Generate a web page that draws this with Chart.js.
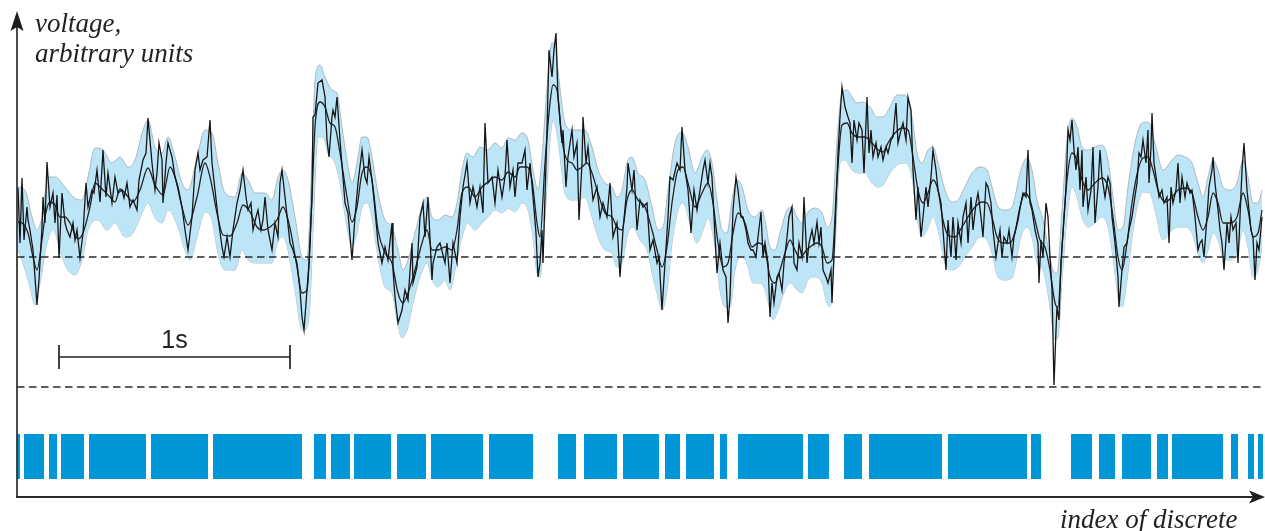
<!DOCTYPE html>
<html><head><meta charset="utf-8">
<script src="https://cdn.jsdelivr.net/npm/chart.js@4.4.1/dist/chart.umd.min.js"></script>
<style>html,body{margin:0;padding:0;background:#fff;overflow:hidden}#wrap{width:1265px;height:531px;position:relative}</style>
</head><body><div id="wrap"><canvas id="c"></canvas></div>
<script>
// x: index of discrete sample, y: voltage (arbitrary units)
const rawSamples = [[0,69],[2,14],[4,79],[6,17],[9,50],[10,37],[12,27],[15,7],[19,-48],[21,-23],[24,30],[25,60],[27,34],[29,95],[32,50],[35,64],[37,34],[39,62],[41,-1],[44,64],[47,34],[49,27],[52,20],[55,34],[57,17],[59,27],[62,-1],[65,24],[68,74],[70,50],[74,67],[76,64],[79,87],[82,55],[85,107],[88,60],[90,84],[94,54],[97,80],[100,64],[104,67],[106,59],[109,74],[112,50],[115,57],[119,47],[121,77],[125,97],[128,104],[130,139],[134,94],[137,67],[139,84],[141,114],[144,97],[145,54],[148,94],[150,114],[154,100],[157,80],[160,70],[164,50],[167,27],[170,7],[174,40],[177,87],[180,104],[182,87],[185,97],[189,100],[192,137],[194,94],[197,67],[200,40],[204,10],[206,0],[209,20],[212,0],[215,27],[219,54],[222,67],[225,87],[228,60],[230,47],[233,54],[235,27],[238,40],[240,47],[243,27],[245,37],[247,60],[250,27],[254,7],[257,34],[260,20],[262,74],[264,87],[267,60],[272,14],[275,7],[279,-6],[282,-33],[284,-60],[286,-73],[289,-33],[291,-6],[294,60],[295,140],[297,142],[300,174],[304,177],[307,160],[309,117],[311,100],[314,140],[315,147],[317,140],[319,160],[322,117],[327,54],[330,44],[334,-3],[337,40],[340,74],[344,107],[347,80],[349,74],[351,100],[354,77],[357,47],[360,14],[364,-6],[367,10],[370,-3],[374,34],[375,-13],[377,-40],[380,-66],[384,-53],[387,-33],[390,-43],[394,14],[395,-26],[399,-10],[402,40],[405,54],[407,20],[410,60],[414,-23],[415,-6],[419,10],[422,14],[427,-6],[429,14],[432,-26],[435,14],[439,-6],[442,40],[445,70],[449,94],[452,54],[455,70],[459,50],[462,70],[465,44],[467,134],[470,74],[474,80],[477,54],[480,87],[484,60],[487,80],[489,117],[492,70],[495,87],[497,60],[500,94],[504,94],[507,107],[509,67],[512,94],[515,60],[518,24],[520,-20],[522,-6],[524,27],[525,-6],[529,127],[531,207],[534,180],[536,207],[538,224],[540,160],[544,114],[545,127],[548,70],[550,100],[554,127],[556,100],[559,114],[561,37],[564,94],[565,140],[568,94],[570,110],[573,77],[575,57],[579,70],[582,40],[585,54],[589,40],[592,74],[595,20],[599,34],[602,-20],[605,27],[609,70],[610,94],[614,67],[616,87],[619,27],[622,57],[625,50],[629,54],[632,7],[635,17],[639,-6],[641,0],[644,-53],[647,-6],[650,40],[652,80],[655,77],[659,94],[662,87],[664,130],[667,87],[670,67],[673,24],[676,67],[679,47],[682,67],[685,87],[687,97],[690,74],[692,94],[694,80],[697,20],[699,-16],[702,14],[705,-13],[708,-20],[710,-66],[712,-40],[715,47],[718,80],[720,67],[723,40],[725,40],[728,27],[730,14],[733,7],[735,7],[738,0],[740,20],[743,45],[745,0],[747,14],[750,-6],[752,-60],[754,-26],[756,-46],[759,-20],[761,-16],[764,-33],[766,-6],[769,20],[771,40],[774,50],[776,-6],[779,-13],[781,14],[784,0],[786,60],[789,-6],[791,14],[794,27],[796,14],[799,35],[801,14],[803,30],[805,-13],[808,-20],[810,-26],[813,-13],[814,-46],[817,27],[820,104],[822,140],[824,170],[827,150],[830,140],[832,134],[834,94],[836,137],[839,117],[841,134],[844,127],[846,84],[849,160],[851,104],[853,127],[855,100],[858,114],[860,100],[863,110],[865,97],[868,110],[870,104],[873,117],[875,120],[878,154],[880,114],[883,127],[885,134],[888,117],[890,160],[893,147],[895,87],[898,37],[900,70],[903,20],[905,40],[908,70],[910,50],[913,80],[915,107],[918,87],[920,67],[923,54],[925,27],[928,-13],[930,37],[933,0],[935,40],[938,-3],[940,34],[943,14],[945,40],[948,54],[950,14],[953,60],[955,27],[958,54],[960,64],[963,40],[965,20],[968,74],[970,70],[973,54],[975,27],[978,0],[980,14],[982,27],[984,0],[986,20],[989,14],[991,27],[994,0],[996,20],[1000,37],[1003,54],[1005,64],[1008,60],[1010,107],[1012,54],[1014,47],[1017,27],[1020,14],[1021,-26],[1023,17],[1025,0],[1028,54],[1030,40],[1032,0],[1034,-33],[1036,-128],[1038,-73],[1039,-50],[1041,-63],[1043,-6],[1045,24],[1048,70],[1050,127],[1052,117],[1054,137],[1056,107],[1058,87],[1060,110],[1062,67],[1064,107],[1065,50],[1068,80],[1070,47],[1073,67],[1075,110],[1077,34],[1080,70],[1082,107],[1084,80],[1087,60],[1090,80],[1092,74],[1094,40],[1097,14],[1100,-20],[1101,-50],[1104,-13],[1106,10],[1109,14],[1111,27],[1114,40],[1116,54],[1119,74],[1121,104],[1123,100],[1125,117],[1128,94],[1130,127],[1131,74],[1133,110],[1134,144],[1136,94],[1139,74],[1141,60],[1144,67],[1146,54],[1149,60],[1151,14],[1153,70],[1155,54],[1158,67],[1160,94],[1162,54],[1164,80],[1167,60],[1169,74],[1172,64],[1174,67],[1177,40],[1180,7],[1182,14],[1184,17],[1186,0],[1189,40],[1191,70],[1194,87],[1195,100],[1197,74],[1200,47],[1202,27],[1204,14],[1206,-13],[1209,34],[1211,14],[1213,40],[1215,27],[1218,34],[1220,-6],[1222,40],[1224,87],[1226,114],[1229,67],[1231,47],[1233,27],[1235,20],[1237,-23],[1239,14],[1241,7],[1244,40]];

const smoothSamples = [[0,35],[4,34],[10,24],[15,0],[19,-13],[24,17],[27,40],[32,55],[37,52],[42,40],[47,40],[52,34],[60,18],[65,24],[72,50],[77,74],[82,70],[92,60],[97,55],[102,68],[107,64],[115,55],[122,67],[130,89],[137,72],[145,62],[152,90],[157,80],[164,50],[170,32],[179,60],[187,94],[192,80],[199,44],[205,22],[212,21],[219,34],[225,52],[232,45],[239,30],[245,27],[252,30],[259,37],[265,50],[272,29],[279,-10],[284,-36],[289,-33],[294,60],[297,130],[302,155],[307,150],[312,134],[317,130],[322,104],[329,60],[334,35],[339,50],[344,84],[349,90],[354,77],[360,27],[367,4],[374,-6],[380,-36],[385,-46],[390,-36],[397,-13],[404,14],[409,27],[414,7],[420,7],[427,10],[434,7],[439,27],[444,64],[450,70],[457,60],[464,70],[470,75],[477,80],[484,77],[490,85],[497,80],[502,90],[509,90],[514,77],[519,34],[522,20],[527,94],[532,154],[535,172],[539,167],[544,117],[549,97],[554,94],[559,87],[564,90],[569,94],[574,84],[580,64],[587,44],[594,40],[599,30],[604,27],[609,57],[614,67],[620,57],[627,50],[634,27],[639,7],[644,-10],[649,10],[654,54],[660,87],[665,90],[670,74],[677,50],[684,64],[690,74],[695,54],[700,14],[705,-10],[710,-6],[715,24],[720,44],[727,34],[734,10],[740,14],[747,7],[752,-20],[757,-26],[762,-13],[767,4],[772,17],[777,7],[782,-1],[787,5],[792,10],[799,14],[804,10],[809,-6],[814,-3],[819,77],[824,132],[829,134],[834,124],[840,120],[847,120],[854,114],[860,107],[865,105],[870,114],[877,124],[884,129],[890,127],[895,100],[900,67],[905,54],[910,64],[915,77],[920,67],[925,37],[930,22],[937,20],[944,30],[950,40],[957,50],[964,55],[969,54],[974,40],[979,20],[985,14],[992,14],[997,25],[1002,50],[1007,64],[1012,57],[1017,37],[1022,17],[1027,10],[1032,-13],[1037,-46],[1040,-50],[1044,10],[1049,77],[1054,104],[1059,97],[1064,77],[1070,67],[1077,74],[1084,79],[1090,70],[1095,40],[1100,0],[1104,-13],[1109,14],[1114,54],[1120,87],[1125,99],[1130,100],[1135,87],[1140,67],[1147,55],[1154,60],[1160,67],[1167,69],[1174,64],[1180,40],[1185,27],[1190,40],[1195,64],[1200,54],[1205,34],[1212,34],[1219,40],[1225,64],[1230,47],[1235,20],[1240,24],[1244,47]];

const bandUpper = [[0,70],[7,67],[14,40],[19,27],[24,40],[30,80],[37,80],[47,70],[55,60],[64,57],[70,80],[77,109],[85,107],[94,94],[102,100],[110,90],[117,97],[125,127],[130,137],[137,110],[144,104],[150,120],[157,100],[164,74],[170,67],[179,100],[187,127],[194,124],[200,94],[207,64],[217,60],[224,84],[230,77],[237,64],[247,64],[254,57],[260,80],[265,87],[270,77],[277,40],[284,0],[289,-3],[294,100],[297,177],[302,192],[307,180],[314,167],[319,164],[324,130],[329,97],[334,74],[339,94],[344,120],[349,120],[354,100],[360,64],[367,37],[374,30],[380,7],[385,-13],[390,-3],[397,24],[404,50],[409,60],[414,40],[420,37],[427,42],[434,40],[439,54],[444,87],[449,104],[455,100],[462,110],[470,107],[477,114],[484,109],[490,119],[497,117],[504,124],[510,117],[515,87],[520,67],[524,100],[529,170],[534,214],[537,214],[540,187],[547,134],[554,127],[560,127],[567,127],[574,110],[580,87],[587,74],[594,70],[599,60],[604,67],[609,94],[614,100],[620,84],[627,77],[634,50],[640,27],[645,30],[650,67],[657,114],[664,125],[670,110],[677,84],[684,100],[689,107],[694,94],[699,57],[704,27],[709,24],[714,57],[719,77],[724,70],[730,47],[737,40],[744,47],[747,37],[752,10],[757,7],[762,24],[769,47],[774,50],[779,40],[784,34],[790,45],[797,49],[804,44],[809,30],[814,40],[819,117],[824,164],[829,167],[834,160],[839,154],[845,155],[852,150],[859,140],[865,140],[872,150],[879,162],[887,162],[894,140],[899,104],[904,94],[910,107],[915,110],[920,94],[927,67],[934,55],[940,57],[947,70],[954,84],[962,90],[969,87],[974,70],[980,50],[987,47],[994,50],[997,60],[1002,84],[1009,99],[1014,87],[1019,57],[1025,37],[1030,10],[1035,-13],[1039,-16],[1044,47],[1049,117],[1054,139],[1059,130],[1064,110],[1070,107],[1077,110],[1084,112],[1090,97],[1095,60],[1100,27],[1105,30],[1110,70],[1117,114],[1124,134],[1130,135],[1137,114],[1145,87],[1154,97],[1160,102],[1167,100],[1174,94],[1180,74],[1185,60],[1190,80],[1195,97],[1200,87],[1205,70],[1212,67],[1219,74],[1225,97],[1230,80],[1235,54],[1240,54],[1244,67]];

const bandLower = [[0,7],[4,-3],[12,-30],[17,-48],[22,-26],[29,14],[35,27],[44,0],[50,-13],[57,-18],[64,-3],[70,27],[80,37],[89,27],[97,34],[107,20],[115,24],[124,44],[130,54],[137,39],[144,34],[150,47],[160,30],[167,7],[172,-3],[179,20],[187,45],[194,37],[200,4],[207,-13],[217,-13],[224,7],[230,-3],[239,-6],[247,-6],[254,-6],[260,17],[265,20],[270,7],[277,-33],[284,-73],[287,-73],[292,-46],[295,27],[300,120],[305,120],[310,104],[317,94],[322,74],[329,30],[334,10],[339,24],[344,50],[349,54],[354,40],[360,0],[367,-30],[374,-36],[379,-63],[384,-81],[389,-73],[395,-46],[402,-20],[409,-6],[414,-23],[420,-30],[427,-23],[432,-33],[437,-13],[444,20],[450,34],[457,27],[464,34],[470,40],[477,47],[484,44],[490,49],[497,45],[504,54],[510,47],[515,20],[519,-16],[522,-20],[527,40],[532,117],[535,137],[540,117],[547,64],[554,57],[560,57],[567,60],[574,40],[580,20],[587,7],[594,4],[599,-10],[604,-6],[610,24],[615,30],[622,17],[629,7],[635,-20],[640,-40],[644,-53],[649,-33],[654,14],[660,47],[665,54],[672,34],[679,14],[685,27],[690,39],[697,10],[702,-33],[707,-50],[712,-50],[717,-13],[722,0],[729,-6],[735,-26],[742,-26],[747,-33],[752,-53],[755,-63],[760,-53],[767,-33],[772,-26],[779,-33],[784,-36],[790,-23],[797,-20],[804,-26],[809,-46],[812,-50],[817,10],[822,94],[827,97],[834,87],[840,84],[847,84],[854,74],[860,70],[865,72],[872,84],[879,92],[887,94],[894,80],[899,40],[904,20],[909,27],[915,40],[920,27],[927,-6],[934,-13],[940,-10],[947,0],[954,10],[962,20],[969,17],[974,4],[980,-20],[987,-23],[994,-21],[997,-11],[1002,17],[1009,30],[1014,20],[1019,-6],[1025,-13],[1030,-36],[1034,-66],[1037,-83],[1040,-80],[1044,-23],[1049,40],[1054,70],[1059,60],[1064,40],[1070,30],[1077,34],[1084,40],[1090,30],[1095,0],[1100,-40],[1104,-50],[1109,-23],[1114,20],[1120,54],[1125,65],[1132,64],[1137,47],[1145,17],[1154,27],[1160,30],[1167,30],[1174,24],[1180,4],[1185,-6],[1190,7],[1195,24],[1200,17],[1205,0],[1212,-3],[1219,4],[1225,27],[1230,10],[1235,-20],[1240,-13],[1244,10]];

// detected segments (sample index ranges)
const eventStart = [-1,6,31,43,71,133,195,296,313,336,379,413,471,540,566,605,647,668,702,720,790,826,851,930,1013,1053,1081,1104,1139,1154,1213,1230,1240];
const eventEnd   = [2,26,39,66,128,190,284,308,332,373,408,465,515,558,599,641,662,696,709,785,811,844,924,1009,1023,1074,1097,1133,1150,1205,1220,1236,1245];
const eventTop = -177, eventBottom = -222;

const baselineLevel = 0;
const thresholdLevel = -130;
const xMin = -1, xMax = 1245, yMin = -240, yMax = 245;
const scaleBarStart = 41, samplesPerSecond = 231, scaleBarLevel = -100;

const toPts = arr => arr.map(([x, y]) => ({x, y}));
const eventPts = [];
eventStart.forEach((s, i) => {
  if (i > 0) eventPts.push({x: (eventEnd[i-1] + s) / 2, y: null});
  eventPts.push({x: s, y: eventTop}, {x: eventEnd[i], y: eventTop});
});

const decor = {
  id: 'decor',
  afterDatasetsDraw(chart) {
    const {ctx, scales: {x, y}} = chart;
    const x0 = x.getPixelForValue(xMin), y0 = y.getPixelForValue(yMin);
    const yTop = y.getPixelForValue(yMax);
    ctx.save();
    ctx.strokeStyle = '#2b2b2b'; ctx.fillStyle = '#1e1e1e'; ctx.lineWidth = 1.7;
    // y axis
    ctx.beginPath(); ctx.moveTo(x0, y0 + 0.8); ctx.lineTo(x0, yTop + 12); ctx.stroke();
    ctx.beginPath(); ctx.moveTo(x0, yTop - 1); ctx.lineTo(x0 - 6.5, yTop + 19); ctx.lineTo(x0, yTop + 15); ctx.lineTo(x0 + 6.5, yTop + 19); ctx.closePath(); ctx.fill();
    // x axis
    const xr = chart.width;
    ctx.lineWidth = 2;
    ctx.beginPath(); ctx.moveTo(x0 - 0.8, y0); ctx.lineTo(xr - 10, y0); ctx.stroke();
    ctx.beginPath(); ctx.moveTo(xr, y0); ctx.lineTo(xr - 16, y0 - 6.5); ctx.lineTo(xr - 12, y0); ctx.lineTo(xr - 16, y0 + 6.5); ctx.closePath(); ctx.fill();
    // scale bar
    const sx1 = x.getPixelForValue(scaleBarStart), sx2 = x.getPixelForValue(scaleBarStart + samplesPerSecond);
    const sy = y.getPixelForValue(scaleBarLevel);
    ctx.lineWidth = 1.7; ctx.strokeStyle = '#222';
    ctx.beginPath();
    ctx.moveTo(sx1, sy); ctx.lineTo(sx2, sy);
    ctx.moveTo(sx1, sy - 12); ctx.lineTo(sx1, sy + 12);
    ctx.moveTo(sx2, sy - 12); ctx.lineTo(sx2, sy + 12);
    ctx.stroke();
    ctx.fillStyle = '#222';
    ctx.font = '25px "Liberation Sans", Arial, sans-serif';
    ctx.textAlign = 'center'; ctx.textBaseline = 'alphabetic';
    ctx.fillText('1s', (sx1 + sx2) / 2, sy - 9);
    // axis titles
    ctx.font = 'italic 27px "Liberation Serif", "Times New Roman", serif';
    ctx.textAlign = 'left';
    ctx.fillText('voltage,', 35, 32);
    ctx.fillText('arbitrary units', 35, 62);
    ctx.fillText('index of discrete', 1060, 528);
    ctx.restore();
  }
};

const flat = (v) => [{x: xMin, y: v}, {x: xMax, y: v}];

new Chart(document.getElementById('c'), {
  type: 'line',
  data: {
    datasets: [
      {label: 'raw', data: toPts(rawSamples), borderColor: '#161616', borderWidth: 1.3, pointRadius: 0, tension: 0, order: 0},
      {label: 'smoothed', data: toPts(smoothSamples), borderColor: '#222', borderWidth: 1.3, pointRadius: 0, cubicInterpolationMode: 'monotone', order: 1},
      {label: 'baseline', data: flat(baselineLevel), borderColor: '#2a2a2a', borderWidth: 1.3, borderDash: [7.5, 4.5], pointRadius: 0, order: 2},
      {label: 'threshold', data: flat(thresholdLevel), borderColor: '#2a2a2a', borderWidth: 1.3, borderDash: [7.5, 4.5], pointRadius: 0, order: 2},
      {label: 'upper', data: toPts(bandUpper), borderColor: 'rgba(165,175,180,0.85)', borderWidth: 1, pointRadius: 0, cubicInterpolationMode: 'monotone', fill: '+1', backgroundColor: '#bde5f8', order: 3},
      {label: 'lower', data: toPts(bandLower), borderColor: 'rgba(165,175,180,0.85)', borderWidth: 1, pointRadius: 0, cubicInterpolationMode: 'monotone', fill: false, order: 4},
      {label: 'events', data: eventPts, borderColor: 'rgba(0,0,0,0)', borderWidth: 0, pointRadius: 0, spanGaps: false, fill: {value: eventBottom}, backgroundColor: '#0096d8', order: 5}
    ]
  },
  options: {
    responsive: true, maintainAspectRatio: false, animation: false,
    layout: {padding: {left: 17, right: 2, top: 12, bottom: 34}},
    scales: {
      x: {type: 'linear', min: xMin, max: xMax, display: false},
      y: {type: 'linear', min: yMin, max: yMax, display: false}
    },
    plugins: {legend: {display: false}, tooltip: {enabled: false}},
    events: []
  },
  plugins: [decor]
});
</script>
</body></html>
